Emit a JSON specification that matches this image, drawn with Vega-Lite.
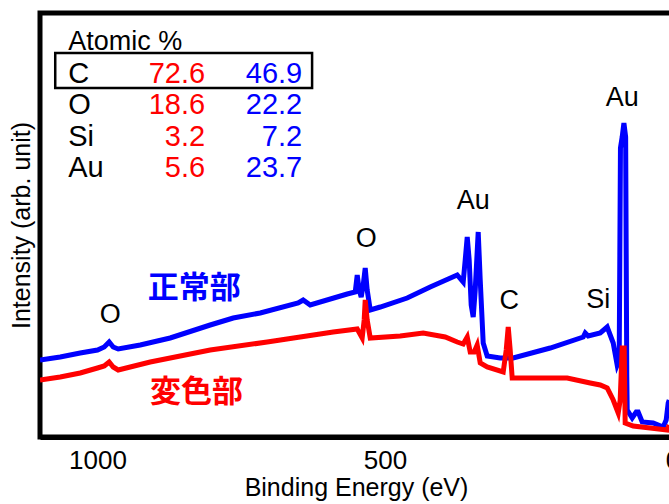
{
  "$schema": "https://vega.github.io/schema/vega-lite/v6.json",
  "autosize": {"type": "none"},
  "padding": {"left": 40, "top": 13, "right": -15, "bottom": 67},
  "width": 644,
  "height": 424,
  "config": {
    "view": {"stroke": "black", "strokeWidth": 5},
    "font": "Liberation Sans"
  },
  "datasets": {
    "spec": [
      {"s":"正常部","E":1100,"I":77},{"s":"正常部","E":1064.9,"I":80},{"s":"正常部","E":1030.1,"I":84},{"s":"正常部","E":1000,"I":87},{"s":"正常部","E":988.3,"I":90},{"s":"正常部","E":979.7,"I":95},{"s":"正常部","E":972.7,"I":90},{"s":"正常部","E":964,"I":88},{"s":"正常部","E":925.7,"I":92},{"s":"正常部","E":873.6,"I":99},{"s":"正常部","E":804,"I":112},{"s":"正常部","E":764,"I":119},{"s":"正常部","E":717,"I":124},{"s":"正常部","E":651,"I":134},{"s":"正常部","E":642.3,"I":137},{"s":"正常部","E":630.1,"I":132},{"s":"正常部","E":565.7,"I":143},{"s":"正常部","E":551.8,"I":145},{"s":"正常部","E":548.3,"I":162},{"s":"正常部","E":544.9,"I":147},{"s":"正常部","E":541.4,"I":140},{"s":"正常部","E":537.9,"I":152},{"s":"正常部","E":534.4,"I":169},{"s":"正常部","E":531,"I":147},{"s":"正常部","E":525.7,"I":127},{"s":"正常部","E":508.3,"I":130},{"s":"正常部","E":461.4,"I":139},{"s":"正常部","E":421.4,"I":150},{"s":"正常部","E":374.4,"I":162},{"s":"正常部","E":364,"I":155},{"s":"正常部","E":360.5,"I":177},{"s":"正常部","E":357,"I":200},{"s":"正常部","E":353.6,"I":177},{"s":"正常部","E":350.1,"I":132},{"s":"正常部","E":346.6,"I":120},{"s":"正常部","E":343.1,"I":147},{"s":"正常部","E":337.9,"I":205},{"s":"正常部","E":334.4,"I":157},{"s":"正常部","E":329.2,"I":94},{"s":"正常部","E":322.3,"I":81},{"s":"正常部","E":299.7,"I":79},{"s":"正常部","E":277,"I":79},{"s":"正常部","E":212.7,"I":89},{"s":"正常部","E":155.3,"I":100},{"s":"正常部","E":151.8,"I":104},{"s":"正常部","E":146.6,"I":101},{"s":"正常部","E":125.7,"I":104},{"s":"正常部","E":113.6,"I":110},{"s":"正常部","E":103.1,"I":94},{"s":"正常部","E":96.2,"I":72},{"s":"正常部","E":92.7,"I":77},{"s":"正常部","E":90.5,"I":289},{"s":"正常部","E":87.5,"I":300},{"s":"正常部","E":84.5,"I":314},{"s":"正常部","E":81.5,"I":300},{"s":"正常部","E":79.5,"I":60},{"s":"正常部","E":78.8,"I":27},{"s":"正常部","E":70.1,"I":19},{"s":"正常部","E":63.1,"I":25},{"s":"正常部","E":59.7,"I":25},{"s":"正常部","E":52.7,"I":15},{"s":"正常部","E":33.6,"I":14},{"s":"正常部","E":16.2,"I":10},{"s":"正常部","E":11,"I":17},{"s":"正常部","E":7.5,"I":34},{"s":"正常部","E":5.7,"I":37},
      {"s":"変色部","E":1100,"I":57},{"s":"変色部","E":1064.9,"I":60},{"s":"変色部","E":1030.1,"I":64},{"s":"変色部","E":1000,"I":69},{"s":"変色部","E":988.3,"I":71},{"s":"変色部","E":979.7,"I":75},{"s":"変色部","E":972.7,"I":70},{"s":"変色部","E":964,"I":67},{"s":"変色部","E":908.3,"I":75},{"s":"変色部","E":804,"I":87},{"s":"変色部","E":704.9,"I":95},{"s":"変色部","E":590.1,"I":105},{"s":"変色部","E":548.3,"I":108},{"s":"変色部","E":539.7,"I":99},{"s":"変色部","E":536.2,"I":117},{"s":"変色部","E":534.4,"I":137},{"s":"変色部","E":531,"I":117},{"s":"変色部","E":525.7,"I":99},{"s":"変色部","E":473.6,"I":101},{"s":"変色部","E":433.6,"I":104},{"s":"変色部","E":395.3,"I":100},{"s":"変色部","E":374.4,"I":95},{"s":"変色部","E":364,"I":93},{"s":"変色部","E":357,"I":100},{"s":"変色部","E":351.8,"I":85},{"s":"変色部","E":344.9,"I":85},{"s":"変色部","E":339.7,"I":92},{"s":"変色部","E":334.4,"I":74},{"s":"変色部","E":322.3,"I":70},{"s":"変色部","E":294.4,"I":65},{"s":"変色部","E":289.2,"I":87},{"s":"変色部","E":285.7,"I":110},{"s":"変色部","E":282.3,"I":87},{"s":"変色部","E":278.8,"I":59},{"s":"変色部","E":264.9,"I":59},{"s":"変色部","E":183.1,"I":59},{"s":"変色部","E":143.1,"I":54},{"s":"変色部","E":125.7,"I":52},{"s":"変色部","E":113.6,"I":49},{"s":"変色部","E":103.1,"I":37},{"s":"変色部","E":94.4,"I":24},{"s":"変色部","E":91,"I":37},{"s":"変色部","E":87.5,"I":89},{"s":"変色部","E":84,"I":89},{"s":"変色部","E":82.3,"I":14},{"s":"変色部","E":68.4,"I":11},{"s":"変色部","E":38.8,"I":9},{"s":"変色部","E":9.2,"I":7},{"s":"変色部","E":5.7,"I":12}
    ],
    "peaks": [
      {"t":"O","E":977.7,"I":122},
      {"t":"O","E":532.7,"I":198},
      {"t":"Au","E":346.6,"I":236},
      {"t":"C","E":284,"I":136},
      {"t":"Si","E":129.2,"I":137},
      {"t":"Au","E":87.5,"I":339}
    ],
    "names": [
      {"t":"正常部","E":831.8,"I":148},
      {"t":"変色部","E":828,"I":44}
    ],
    "table": [
      {"el":"C","r":"72.6","b":"46.9","I":354},
      {"el":"O","r":"18.6","b":"22.2","I":323},
      {"el":"Si","r":"3.2","b":"7.2","I":291},
      {"el":"Au","r":"5.6","b":"23.7","I":260}
    ],
    "box": [{"E1":1073.5,"E2":626.8,"I1":384,"I2":349}]
  },
  "layer": [
    {
      "data": {"name": "spec"},
      "transform": [{"filter": "datum.s === '正常部'"}],
      "mark": {"type": "line", "color": "#0000ff", "strokeWidth": 5, "clip": true},
      "encoding": {
        "x": {
          "field": "E", "type": "quantitative",
          "scale": {"domain": [-20, 1100], "reverse": true, "nice": false, "zero": false},
          "axis": {
            "title": "Binding Energy (eV)",
            "values": [1000, 900, 800, 700, 600, 500, 400, 300, 200, 100, 0],
            "format": "d",
            "labelExpr": "datum.value % 500 === 0 ? datum.label : ''",
            "grid": false,
            "tickSize": 0,
            "tickWidth": 4,
            "tickColor": "black",
            "domainColor": "black",
            "domainWidth": 5,
            "labelFontSize": 26,
            "labelColor": "black",
            "labelPadding": 10,
            "labelFlush": false,
            "labelOverlap": false,
            "labelBound": false,
            "titleFontSize": 25,
            "titleFontWeight": "normal",
            "titleColor": "black",
            "titlePadding": 2,
            "titleX": 316,
            "encode": {"ticks": {"update": {"y2": {"signal": "datum.value % 500 === 0 ? -12 : -6"}}}}
          }
        },
        "y": {
          "field": "I", "type": "quantitative",
          "scale": {"domain": [0, 424], "nice": false, "zero": false},
          "axis": {
            "title": "Intensity (arb. unit)",
            "ticks": false, "labels": false, "domain": false, "grid": false,
            "titleFontSize": 25, "titleFontWeight": "normal", "titleColor": "black",
            "titlePadding": 6, "titleY": 212
          }
        }
      }
    },
    {
      "data": {"name": "spec"},
      "transform": [{"filter": "datum.s === '変色部'"}],
      "mark": {"type": "line", "color": "#ff0000", "strokeWidth": 5, "clip": true},
      "encoding": {
        "x": {"field": "E", "type": "quantitative"},
        "y": {"field": "I", "type": "quantitative"}
      }
    },
    {
      "data": {"name": "box"},
      "mark": {"type": "rect", "filled": false, "stroke": "black", "strokeWidth": 2.5},
      "encoding": {
        "x": {"field": "E1", "type": "quantitative"},
        "x2": {"field": "E2"},
        "y": {"field": "I1", "type": "quantitative"},
        "y2": {"field": "I2"}
      }
    },
    {
      "data": {"name": "table"},
      "mark": {"type": "text", "text": "Atomic %", "align": "left", "baseline": "alphabetic", "fontSize": 27, "color": "black"},
      "transform": [{"filter": "datum.el === 'C'"}],
      "encoding": {
        "x": {"datum": 1051, "type": "quantitative"},
        "y": {"datum": 387, "type": "quantitative"}
      }
    },
    {
      "data": {"name": "table"},
      "mark": {"type": "text", "align": "left", "baseline": "alphabetic", "fontSize": 29, "color": "black"},
      "encoding": {
        "x": {"datum": 1051, "type": "quantitative"},
        "y": {"field": "I", "type": "quantitative"},
        "text": {"field": "el"}
      }
    },
    {
      "data": {"name": "table"},
      "mark": {"type": "text", "align": "right", "baseline": "alphabetic", "fontSize": 29, "color": "#ff0000"},
      "encoding": {
        "x": {"datum": 812.7, "type": "quantitative"},
        "y": {"field": "I", "type": "quantitative"},
        "text": {"field": "r"}
      }
    },
    {
      "data": {"name": "table"},
      "mark": {"type": "text", "align": "right", "baseline": "alphabetic", "fontSize": 29, "color": "#0000ff"},
      "encoding": {
        "x": {"datum": 644, "type": "quantitative"},
        "y": {"field": "I", "type": "quantitative"},
        "text": {"field": "b"}
      }
    },
    {
      "data": {"name": "peaks"},
      "mark": {"type": "text", "align": "center", "baseline": "middle", "fontSize": 27, "color": "black"},
      "encoding": {
        "x": {"field": "E", "type": "quantitative"},
        "y": {"field": "I", "type": "quantitative"},
        "text": {"field": "t"}
      }
    },
    {
      "data": {"name": "names"},
      "mark": {"type": "text", "align": "center", "baseline": "middle", "fontSize": 31, "fontWeight": "bold", "font": "Noto Sans CJK JP"},
      "encoding": {
        "x": {"field": "E", "type": "quantitative"},
        "y": {"field": "I", "type": "quantitative"},
        "text": {"field": "t"},
        "color": {"field": "t", "type": "nominal", "scale": {"domain": ["正常部", "変色部"], "range": ["#0000ff", "#ff0000"]}, "legend": null}
      }
    }
  ]
}
